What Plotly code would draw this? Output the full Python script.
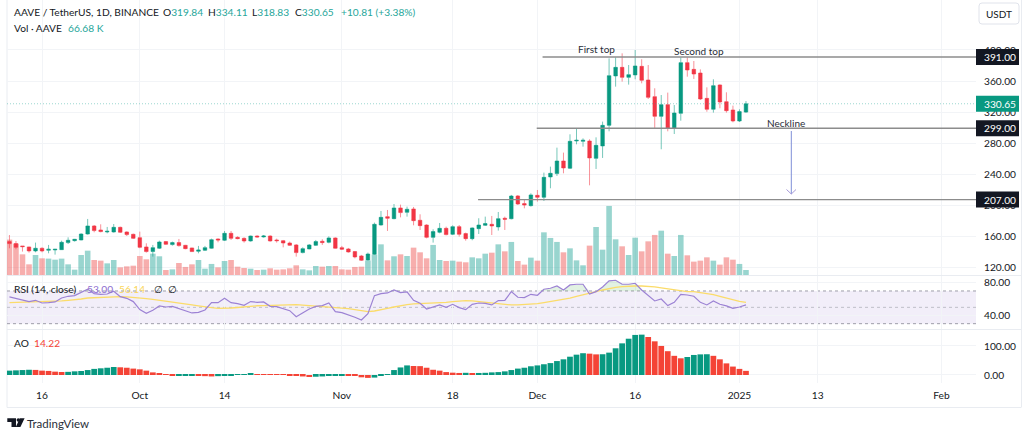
import numpy as np
import pandas as pd
import plotly.graph_objects as go

dates = pd.date_range("2024-09-11", periods=114, freq="D")

opens = [152.8,150.2,147.2,145.9,140.7,144.2,141.6,142,142.4,151.5,154,154.9,162.6,173,167.8,165.2,165.2,171.2,165.2,162.2,
157.9,145.9,139.9,144.2,152.8,148.9,151.5,148,144.6,140.3,141.6,144.2,156.2,154.5,163.5,158.3,157,153.6,160,158.8,
160,154.9,154,151,148.5,138.6,143.3,148,153.2,151.9,157.5,145,143.3,139.9,134.3,129.1,136.4,174.2,185,182.4,
196.2,190.6,194.9,180.3,174.2,158.3,164.8,169.9,162.2,172.1,163.1,156.6,169.5,173.8,175.1,171.7,182.9,182.3,211.7,201.8,
199.2,212.5,210,236.2,240.5,256.8,247.4,282.6,282.2,282.6,260.2,276.2,302.8,366.5,377.6,364.7,367.8,378.9,361.3,339.8,
314.4,329.5,298.9,318.3,383.7,375,370.3,337.6,323.5,354.9,333.3,322.6,308.4,319.84]
highs = [161.3,153.6,147.2,146.3,151.5,145.4,148.5,143.3,154,158.3,156.2,163.5,182,174.2,175.1,171.7,175.5,172.1,166.1,163.1,
165.7,150.6,148.5,154,153.6,152.8,156.2,148.5,145,147.2,147.2,156.6,157,166.5,166.5,159.6,158.3,160.5,160.9,161.3,
160.9,156.6,154.9,152.8,149.7,145.4,149.7,154.9,155.8,159.6,158.3,147.2,144.6,140.7,135.6,138.6,177.3,192.3,193.6,201.3,
200.5,197.9,197.5,188,175.1,168.7,176.8,172.1,173.8,174.2,164.4,171.2,182.9,185,185.9,191,185,213,212.9,206.5,
215.1,219.4,241.8,249.5,274,267.6,291.2,298.1,286,284.8,287.3,307.6,389.2,390.5,395.7,380.6,400,388,380.6,350.6,
341.9,345,329,390.5,390.5,385.8,375,351.8,362.2,355.7,345.4,328.2,323.5,334.11]
lows = [144.2,142.9,139.9,138.6,139,139,137.7,136,142,149.7,152.8,154.5,161.8,164.8,164.8,163.5,164.4,163.9,160,156.2,
144.2,138.6,133.4,143.3,148.5,147.6,146.3,142.9,139.4,137.7,140.7,143.7,151.9,153.6,154.9,155.8,151.5,152.8,157.9,157.9,
152.8,151.5,145.4,147.2,133.4,137.7,142.9,147.2,148.5,150.6,143.7,142,138.6,131.2,127.8,128.3,135.6,173.4,166.5,181.6,
184.1,185,173.8,167.8,157,151.5,163.5,160.9,161.3,159.2,154,154.5,162.6,173,161.3,167,167.8,181.5,200,195.7,
197.9,204.4,205.2,221.6,237.5,240.9,246.5,278.3,275.3,225.4,246.5,260.7,295.1,352.7,359.2,355.3,362.2,357,336.8,299.4,
271.9,295.1,291.6,308.8,365.6,362.6,335.5,320.4,319.2,324.8,319.2,306.7,307.1,318.83]
closes = [150.2,145.4,146.3,140.7,144.2,140.7,142.9,142.9,151.9,154.5,155.8,162.6,173,167,165.7,166.1,171.2,164.8,161.8,157,
145.4,139.9,145,152.3,149.3,151.5,147.6,143.7,139.9,142,145,155.3,154.9,163.5,157,156.6,153.6,160,158.8,160,
153.6,154,151,148,138.6,143.7,148.5,152.8,151.5,157.5,144.2,142.9,139.4,133,128.7,136.8,175.1,184.1,182.9,196.2,
190.2,194.5,179.8,173.4,158.3,165.7,169.9,161.8,172.1,162.2,156.6,170.4,174.2,176,173,182.4,181.6,211.6,201.3,200,
213,210,235.7,240.9,256.8,247.8,282.2,283.5,283.5,260.7,277,302.8,366.9,377.6,364.7,368.2,379.4,360.9,338.9,314.4,
329.5,298.9,318.7,383.7,374.2,369,336.8,323.5,354,332.9,321.7,308.4,320.5,330.65]
volumes_k = [471,417,275,142,266,222,218,204,218,142,71,266,324,200,191,155,200,102,115,124,
253,209,284,249,67,75,160,107,142,200,84,147,102,186,200,111,93,84,67,71,
89,71,75,89,129,75,62,120,111,120,120,75,71,107,111,195,271,408,195,249,
275,253,364,302,222,400,200,186,191,178,169,235,222,284,297,408,315,440,186,138,
231,191,568,493,440,302,355,195,129,391,639,337,919,475,382,266,497,315,448,533,
590,284,253,533,262,178,191,235,191,138,235,204,147,66.68]
rsi = [62.7,60.6,59.4,57,58.6,55.3,55.7,56.6,61.4,63.5,64.3,68.4,72.1,66.8,65.9,66.3,69.6,63.1,61,57,
47.2,42.7,46.4,51.7,50.4,51.2,48.8,45.9,43.1,43.9,46.8,55.7,55.7,61,55.7,54.5,52.5,57,56.1,56.6,
51.2,50.8,48.8,45.9,38.6,43.5,48,51.2,52.1,55.3,44.7,43.5,41,37.8,34.5,42.3,64.3,66.8,67.6,71.2,
68,68.8,58.6,54.9,48,50.8,52.9,50,53.7,49.6,47.2,53.7,55.3,54.9,52.9,58.2,58.6,69.2,62.3,61.9,
65.9,64.7,72.1,73.3,76.1,71.2,77.4,78.2,78.2,66.3,69.2,74.9,82.3,83.1,78.2,78.2,79.4,71.2,64.3,57.8,
60.2,52.1,56.1,65.9,65.1,63.5,56.1,52.9,57.8,53.7,51.7,48.8,50.4,53]
rsi_ma = [55.7,55.9,56.1,56.1,56.6,56.8,57,57.4,57.8,58.6,59.2,60.2,61.4,61.9,62.3,62.7,63.1,63.1,62.7,62.3,
61.4,60.6,59.8,58.8,57.8,56.6,55.3,54.1,52.9,51.7,50.4,49.6,48.8,48.8,49.2,49.8,50.6,51.2,51.9,52.1,
52.5,52.9,53.3,53.5,53.3,52.7,52.1,51.2,50.8,50.4,50,49.4,48.4,47.2,45.9,44.7,45.5,46.8,48.8,50.4,
52.1,53.3,54.1,54.5,54.7,54.9,55.3,56.1,57,57.8,58.2,57.8,57,55.7,54.9,54.1,53.3,52.9,52.9,53.3,
54.1,54.5,55.7,57,58.4,59.4,61.2,63.5,65.1,67.2,69.2,71.2,72.9,74.5,75.3,76.1,76.1,76.1,75.7,74.9,
73.7,72.5,70.8,69.6,69.2,69.2,68,67.2,65.5,63.5,61.4,59.4,57.4,56.14]
ao = [15,16,17,18,17.5,15,14,11.5,10.4,10.8,12.6,13.8,17,21,23,25,27.5,26.5,25,22,
19.5,15,9,3.5,1.5,-2,-1.5,-1.2,-1,-2,-4,-5,-4,-3,-1,2,3,4,3,2.5,
2,1,0.5,-1,-3,-5,-7,-6,-5,-3,-2,-1.5,-2,-3.5,-8,-10,-9,-1,2,17,
26,33,31,30.5,25,18,15,10,8,7,7.5,6.5,7,7.5,9,10,12.5,17,22,25,
30,33,37,41,48,54,63,70,75,73.5,71,71.5,77,92,109,125,138,139,131,116,
100,82,66,57.5,62,69,71,71.5,66,54,40,29,21,14.22]

price_ticks = [120,160,200,240,280,320,360,400]
rsi_ticks = [40,80]
ao_ticks = [0,100]
time_tick_dates = ["2024-09-16","2024-10-01","2024-10-14","2024-11-01","2024-11-18","2024-12-01","2024-12-16","2025-01-01","2025-01-13","2025-02-01"]
time_tick_labels = ["16","Oct","14","Nov","18","Dec","16","2025","13","Feb"]
level_prices = [391.0,299.0,207.0]
level_starts = ["2024-12-01 19:00","2024-11-30 21:30","2024-11-21 21:30"]
last_price = 330.65

GREEN = "#089981"; RED = "#F23645"; TEXT = "#131722"; GRID = "#f2f4f7"; FRAME = "#e9ecf1"
FONT = "Lato"
W, H = 1024, 432
L, R, PB = 7, 976, 383
DAY = 86400000
LEG = 10.2

def X(px): return (px - L) / (R - L)
def Y(py): return (PB - py) / PB

up = [c >= o for o, c in zip(opens, closes)]
vol_colors = ["rgba(38,166,154,0.47)" if u else "rgba(239,83,80,0.47)" for u in up]
ao_arr = np.array(ao)
ao_colors = [GREEN] + [GREEN if ao_arr[i] >= ao_arr[i-1] else "#F44336" for i in range(1, len(ao))]

fig = go.Figure()
fig.add_trace(go.Bar(x=dates, y=volumes_k, yaxis="y", marker=dict(color=vol_colors, line_width=0), width=0.86*DAY))
fig.add_trace(go.Candlestick(x=dates, open=opens, high=highs, low=lows, close=closes, yaxis="y2",
    increasing=dict(line=dict(color="rgba(8,153,129,0.55)", width=1), fillcolor=GREEN),
    decreasing=dict(line=dict(color="rgba(242,54,69,0.55)", width=1), fillcolor=RED),
    whiskerwidth=0))
over = np.maximum(np.array(rsi), 70)
fig.add_trace(go.Scatter(x=dates, y=[70]*len(dates), yaxis="y3", mode="lines", line=dict(width=0, color="rgba(0,0,0,0)")))
fig.add_trace(go.Scatter(x=dates, y=over, yaxis="y3", mode="lines", line=dict(width=0, color="rgba(0,0,0,0)"),
    fill="tonexty", fillcolor="rgba(76,175,80,0.16)"))
fig.add_trace(go.Scatter(x=dates, y=rsi_ma, yaxis="y3", mode="lines", line=dict(color="#FBDC6A", width=1.3)))
fig.add_trace(go.Scatter(x=dates, y=rsi, yaxis="y3", mode="lines", line=dict(color="#9C82D4", width=1.2)))
fig.add_trace(go.Bar(x=dates, y=ao, yaxis="y4", marker=dict(color=ao_colors, line_width=0), width=0.88*DAY))

shapes = []
def hline(px_y, x0=L, x1=1021, color=FRAME, w=1):
    shapes.append(dict(type="line", xref="paper", yref="paper", x0=X(x0), x1=X(x1), y0=Y(px_y), y1=Y(px_y),
                       line=dict(color=color, width=w), layer="below"))
def vline(px_x, y0, y1, color=FRAME, w=1):
    shapes.append(dict(type="line", xref="paper", yref="paper", x0=X(px_x), x1=X(px_x), y0=Y(y0), y1=Y(y1),
                       line=dict(color=color, width=w), layer="below"))
hline(275.5); hline(329.5); hline(407.5); vline(7, 0, 407.5); vline(1021.5, 0, 407.5)

# RSI band and levels
shapes.append(dict(type="rect", xref="x domain", yref="y3", x0=0, x1=1, y0=30, y1=70,
                   fillcolor="rgba(126,87,194,0.10)", line_width=0, layer="below"))
for lv, c in ((70,"#9e9ea8"),(50,"#bfbfc8"),(30,"#9e9ea8")):
    shapes.append(dict(type="line", xref="x domain", yref="y3", x0=0, x1=1, y0=lv, y1=lv,
                       line=dict(color=c, width=1, dash="3px,3px"), layer="below"))

# last price line
shapes.append(dict(type="line", xref="x domain", yref="y2", x0=0, x1=1, y0=last_price, y1=last_price,
                   line=dict(color="rgba(38,166,154,0.45)", width=1, dash="1px,2px")))
# drawn levels
for p, s in zip(level_prices, level_starts):
    shapes.append(dict(type="line", xref="x", yref="y2", x0=s, x1=dates[-1] + pd.Timedelta(days=35.3), y0=p, y1=p,
                       line=dict(color="#8c8c8c", width=1.4)))
# neckline arrow
shapes.append(dict(type="line", xref="paper", yref="paper", x0=X(791.3), x1=X(791.3), y0=Y(131), y1=Y(194),
                   line=dict(color="#7f8fd8", width=1)))
shapes.append(dict(type="path", xref="paper", yref="paper",
                   path=f"M {X(786.5)} {Y(189.5)} L {X(791.3)} {Y(194)} L {X(796)} {Y(189.5)}",
                   line=dict(color="#a79ad8", width=1)))
# price tags
for p, col in list(zip(level_prices, ["#131722"]*3)) + [(last_price, GREEN)]:
    shapes.append(dict(type="rect", xref="paper", yref="y2", x0=X(976), x1=X(1019),
                       ysizemode="pixel", yanchor=p, y0=-8, y1=8, fillcolor=col, line_width=0))
# USDT button
shapes.append(dict(type="path", xref="paper", yref="paper",
    path=(f"M {X(982)} {Y(3)} L {X(1016)} {Y(3)} Q {X(1019)} {Y(3)} {X(1019)} {Y(6)} L {X(1019)} {Y(21)} "
          f"Q {X(1019)} {Y(24)} {X(1016)} {Y(24)} L {X(982)} {Y(24)} Q {X(979)} {Y(24)} {X(979)} {Y(21)} "
          f"L {X(979)} {Y(6)} Q {X(979)} {Y(3)} {X(982)} {Y(3)} Z"),
    line=dict(color="#e0e3eb", width=1), fillcolor="white"))
# TradingView logo
def poly(pts):
    return "M " + " L ".join(f"{X(a)} {Y(b)}" for a, b in pts) + " Z"
for pts in ([(7.3,418.3),(16,418.3),(16,427),(11.5,427),(11.5,422),(7.3,422)],
            [(19.8,418.3),(24.6,418.3),(20.4,427),(15.8,427)]):
    shapes.append(dict(type="path", xref="paper", yref="paper", path=poly(pts), fillcolor="#131722", line_width=0))
shapes.append(dict(type="circle", xref="paper", yref="paper", x0=X(16.6), x1=X(20), y0=Y(418.3), y1=Y(421.7),
                   fillcolor="#131722", line_width=0))

anns = []
def txt(px, py, s, color=TEXT, size=LEG, anchor="left", family=FONT):
    anns.append(dict(xref="paper", yref="paper", x=X(px), y=Y(py), text=s, showarrow=False, xanchor=anchor,
                     yanchor="middle", font=dict(color=color, size=size, family=family), borderpad=0, borderwidth=0))
def tag(p, s):
    anns.append(dict(xref="paper", yref="y2", x=X(999.5), y=p, text=s, showarrow=False, xanchor="center",
                     yanchor="middle", font=dict(color="white", size=10.2, family=FONT)))
for p in level_prices: tag(p, f"{p:.2f}")
tag(last_price, f"{last_price:.2f}")

G2 = "#26a69a"
txt(14, 12, "AAVE / TetherUS, 1D, BINANCE")
for px, a, b in ((163,"O","319.84"),(208,"H","334.11"),(252,"L","318.83"),(295,"C","330.65")):
    txt(px, 12, f"{a}<span style='color:{G2}'>{b}</span>")
txt(341, 12, "+10.81 (+3.38%)", color=G2)
txt(14, 28, "Vol · AAVE")
txt(68, 28, "66.68 K", color=G2)
txt(14, 289, "RSI (14, close)")
txt(87, 289, "53.00", color="#8E6FD0")
txt(119, 289, "56.14", color="#F9D65C")
txt(154, 289, "∅")
txt(168, 289, "∅")
txt(14, 343, "AO")
txt(34, 343, "14.22", color="#F44336")
txt(999, 13.5, "USDT", size=10, anchor="center")
txt(596, 49, "First top", size=10, anchor="center", color="#2a2e39")
txt(699, 50.5, "Second top", size=10, anchor="center", color="#2a2e39")
txt(785.5, 122.5, "Neckline", size=10, anchor="center", color="#2a2e39")
txt(27, 423, "TradingView", size=11.5, color="#2a2e39")

axfont = dict(color=TEXT, size=10.2, family=FONT)
def yax(lo, hi, d0, d1, vals):
    return dict(domain=[Y(d1), Y(d0)], range=[lo, hi], side="right", anchor="x", tickmode="array", tickvals=vals,
                ticktext=[f"{v:.2f}" for v in vals], tickfont=axfont, ticks="outside", ticklen=5,
                tickcolor="rgba(0,0,0,0)", gridcolor=GRID, gridwidth=1, zeroline=False, showline=False, fixedrange=True)

fig.update_layout(
    width=W, height=H, margin=dict(l=L, r=W-R, t=0, b=H-PB, pad=0), autosize=False,
    paper_bgcolor="white", plot_bgcolor="white", showlegend=False, barmode="overlay", hovermode=False,
    boxgap=0.22, shapes=shapes, annotations=anns, font=dict(family=FONT),
    xaxis=dict(type="date", anchor="y4", range=["2024-09-10 15:00","2025-02-06 07:00"], rangeslider=dict(visible=False),
               tickmode="array", tickvals=time_tick_dates, ticktext=time_tick_labels, tickfont=axfont,
               ticks="outside", ticklen=3, tickcolor="rgba(0,0,0,0)", gridcolor=GRID, zeroline=False, showline=False),
    yaxis=dict(domain=[Y(275), 1], range=[0, 3660], visible=False, fixedrange=True, anchor="x"),
    yaxis2={**yax(109.7, 464.5, 0, 275, price_ticks), "overlaying": "y"},
    yaxis3=yax(23.5, 88.3, 276, 329, rsi_ticks),
    yaxis4=yax(-27.6, 155, 330, 383, ao_ticks),
)
fig.write_html("out.html", config={"displayModeBar": False},
               post_script="document.body.style.margin='0';document.body.style.overflow='hidden';")
